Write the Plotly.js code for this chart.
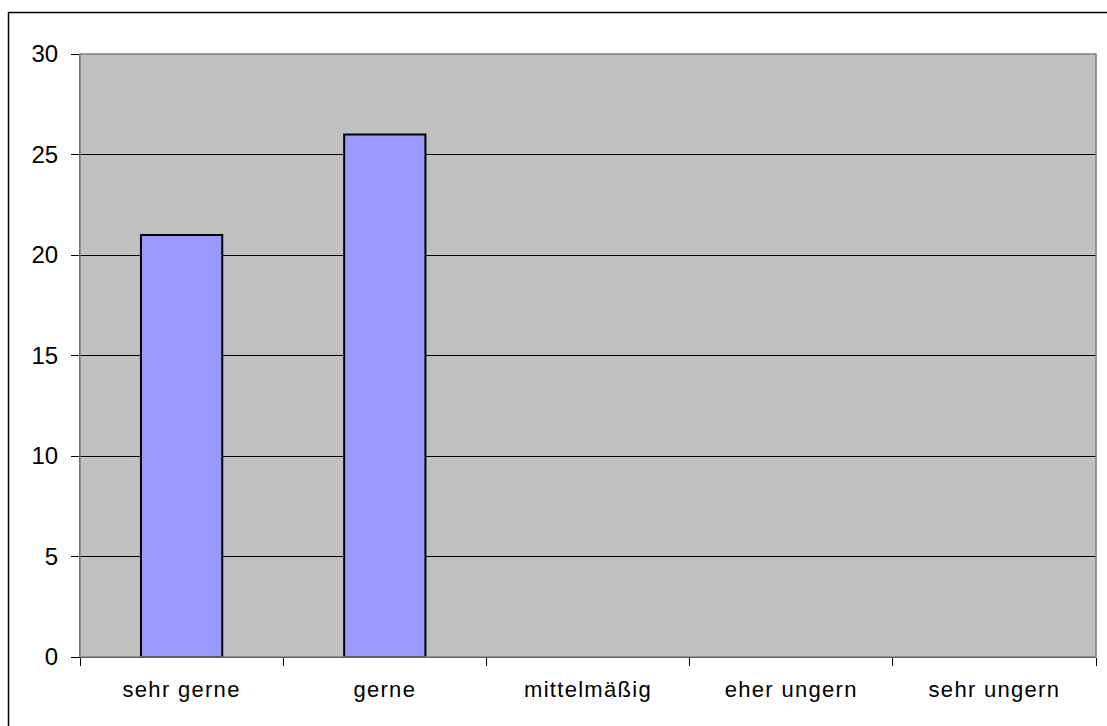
<!DOCTYPE html>
<html>
<head>
<meta charset="utf-8">
<script src="https://cdn.plot.ly/plotly-3.0.1.min.js"></script>
<style>
  html, body { margin: 0; padding: 0; background: #ffffff; }
  #chart { width: 1107px; height: 726px; }
  /* slightly wider tracking on the category labels */
  #chart .xtick text { letter-spacing: 1.3px; }
</style>
</head>
<body>
<div id="chart"></div>
<script>
// Answer categories and counts
const categories = ["sehr gerne", "gerne", "mittelmäßig", "eher ungern", "sehr ungern"];
const counts = [21, 26, 0, 0, 0];
const yTicks = [0, 5, 10, 15, 20, 25, 30];

const W = 1107, H = 726;
const margin = { l: 80, r: 11, t: 54, b: 69 };
const plotW = W - margin.l - margin.r;
const plotH = H - margin.t - margin.b;

// convert pixel positions on the page into paper coordinates for the outer frame
const px = x => (x - margin.l) / plotW;
const py = y => 1 - (y - margin.t) / plotH;

const trace = {
  type: "bar",
  x: categories,
  y: counts,
  marker: {
    color: "#9999FF",
    // empty categories get no outline so no stray stroke sits on the axis
    line: { color: "#000000", width: counts.map(v => (v > 0 ? 2 : 0)) }
  },
  hoverinfo: "x+y"
};

const family = "Liberation Sans, Arial, sans-serif";

const layout = {
  width: W,
  height: H,
  margin: margin,
  paper_bgcolor: "#ffffff",
  plot_bgcolor: "#C0C0C0",
  bargap: 0.6,
  showlegend: false,
  xaxis: {
    type: "category",
    tickson: "boundaries",
    ticks: "outside",
    ticklen: 8,
    tickcolor: "#000000",
    showgrid: false,
    showline: true,
    linecolor: "#000000",
    linewidth: 1,
    tickfont: { family: family, size: 22, color: "#000000" },
    ticklabelstandoff: 13,
    zeroline: false,
    fixedrange: true
  },
  yaxis: {
    range: [0, 30],
    tickvals: yTicks,
    ticktext: yTicks.map(String),
    ticks: "outside",
    ticklen: 8,
    tickcolor: "#000000",
    showgrid: true,
    gridcolor: "#000000",
    gridwidth: 1,
    showline: true,
    linecolor: "#404040",
    linewidth: 1,
    zeroline: false,
    tickfont: { family: family, size: 24, color: "#000000" },
    ticklabelstandoff: 8,
    fixedrange: true
  },
  shapes: [
    // plot area frame
    { type: "rect", xref: "paper", yref: "paper", x0: 0, x1: 1, y0: 0, y1: 1,
      line: { color: "#808080", width: 1.5 }, layer: "above" },
    // outer chart frame
    { type: "rect", xref: "paper", yref: "paper",
      x0: px(8.5), x1: px(1120), y0: py(740), y1: py(12.5),
      line: { color: "#000000", width: 1.5 }, layer: "above" }
  ]
};

Plotly.newPlot("chart", [trace], layout, { displayModeBar: false, staticPlot: true });
</script>
</body>
</html>
